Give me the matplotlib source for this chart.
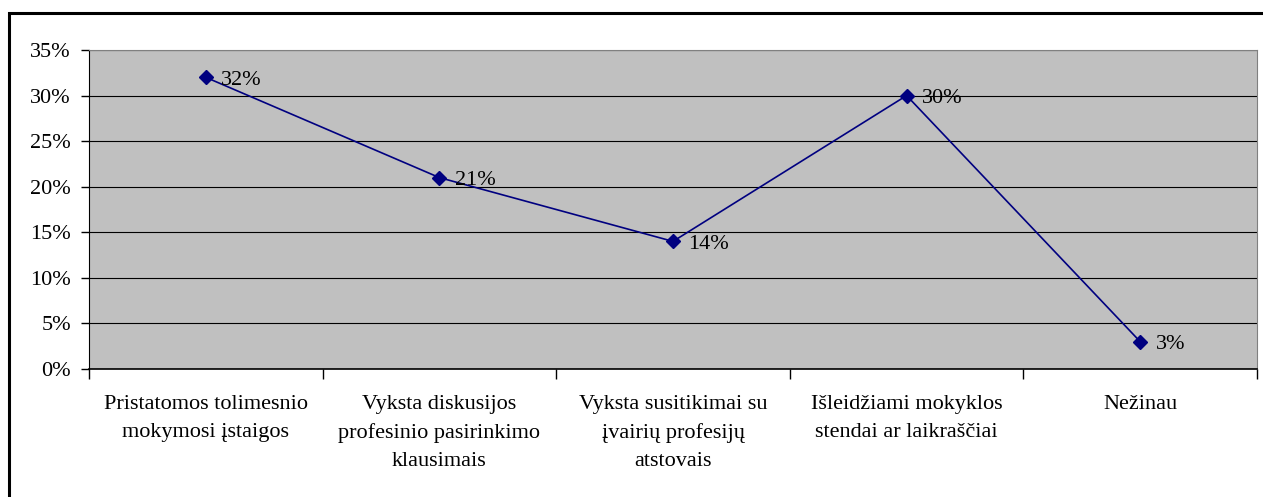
import matplotlib.pyplot as plt
from matplotlib.patches import Rectangle
from matplotlib.ticker import PercentFormatter

categories = ['Pristatomos tolimesnio\nmokymosi įstaigos',
              'Vyksta diskusijos\nprofesinio pasirinkimo\nklausimais',
              'Vyksta susitikimai su\nįvairių profesijų\natstovais',
              'Išleidžiami mokyklos\nstendai ar laikraščiai',
              'Nežinau']
values = [32, 21, 14, 30, 3]
yticks = [0, 5, 10, 15, 20, 25, 30, 35]

plt.rcParams['font.family'] = ['Liberation Serif', 'DejaVu Serif']

fig = plt.figure(figsize=(12.63, 4.97), dpi=100)
ax = fig.add_axes([89 / 1263, 1 - 369 / 497, 1168 / 1263, 319 / 497])
ax.set_facecolor('#c0c0c0')

x = list(range(len(values)))
ax.plot(x, values, color='#000080', lw=1.2, marker='D', markersize=7, zorder=3)
for xi, v in zip(x, values):
    ax.annotate(f'{v}%', (xi, v), xytext=(11, -2), textcoords='offset points',
                va='center', ha='left', fontsize=16, color='black')

ax.set_xlim(-0.5, len(values) - 0.5)
ax.set_ylim(0, 35)
ax.set_yticks(yticks)
ax.yaxis.set_major_formatter(PercentFormatter(decimals=0))
ax.grid(axis='y', color='black', lw=0.8)
ax.set_axisbelow(True)

ax.set_xticks([i + 0.5 for i in range(-1, len(values))])
ax.set_xticklabels([])
ax.set_xticks(x, minor=True)
ax.set_xticklabels(categories, minor=True, fontsize=16, linespacing=1.6)
ax.tick_params(axis='x', which='minor', length=0, pad=19)
ax.tick_params(axis='x', which='major', length=7, width=1, direction='out')
ax.tick_params(axis='y', length=6, width=1, labelsize=16, pad=7)

for side in ['top', 'right']:
    ax.spines[side].set_color('#808080')
for side in ['left', 'bottom']:
    ax.spines[side].set_color('black')
ax.spines['bottom'].set_linewidth(1.2)

fig.patches.append(Rectangle((8.5 / 1263, -0.1), 1.2, 1 - 12.5 / 497 + 0.1,
                             transform=fig.transFigure, fill=False,
                             edgecolor='black', lw=2.2, clip_on=False))

fig.savefig('out.png', dpi=100)
